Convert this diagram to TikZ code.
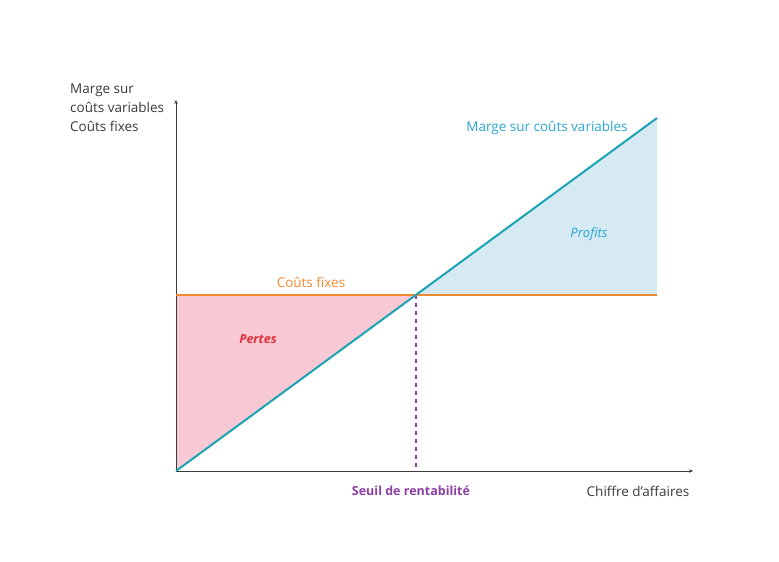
\documentclass[tikz,border=0pt]{standalone}
\usepackage{fontspec}
\setmainfont{Open Sans}
\usetikzlibrary{arrows.meta}
\definecolor{teal1}{HTML}{1AA3B3}
\definecolor{orange1}{HTML}{F08A30}
\definecolor{pink1}{HTML}{F7C9D4}
\definecolor{blue1}{HTML}{D5EAF2}
\definecolor{purple1}{HTML}{8C3FA3}
\definecolor{red1}{HTML}{E0303A}
\definecolor{grey1}{HTML}{3A3A3A}
\definecolor{bluetxt}{HTML}{2AA6D0}
\tikzset{
  lbl/.style={font=\fontsize{13.5}{19}\selectfont, inner sep=0pt},
  axis/.style={draw=grey1, line width=0.9pt},
}
\begin{document}
\begin{tikzpicture}[x=1pt,y=-1pt]
\useasboundingbox (0,0) rectangle (779,562);
\coordinate (O) at (176,471);
\coordinate (Ytop) at (176,100);
\coordinate (Xend) at (693,471);
\coordinate (F0) at (176,295);
\coordinate (S) at (416,295);
\coordinate (F1) at (657,295);
\coordinate (M1) at (657,118);
\coordinate (Sb) at (416,471);
% fills
\fill[pink1] (O) -- (F0) -- (S) -- cycle;
\fill[blue1] (S) -- (M1) -- (F1) -- cycle;
% axes
\draw[axis, -{Stealth[length=4pt,width=3.5pt]}] (O) -- (Ytop);
\draw[axis, -{Stealth[length=4pt,width=3.5pt]}] (O) -- (Xend);
% dashed
\draw[purple1, line width=1.4pt, dash pattern=on 4pt off 4pt] (S) -- (Sb);
% fixed costs
\draw[orange1, line width=1.8pt] (F0) -- (F1);
% margin line
\draw[teal1, line width=2pt] (O) -- (M1);
% labels
\node[lbl, grey1, align=left, anchor=north west] (yl) at (70,84) {Marge sur\\coûts variables\\Coûts fixes};
\node[lbl, bluetxt] (ml) at (547,128) {Marge sur coûts variables};
\node[lbl, bluetxt, font=\fontsize{13}{16}\selectfont\itshape] (pr) at (589,234) {Profits};
\node[lbl, orange1] (cf) at (311,282) {Coûts fixes};
\node[lbl, red1, font=\fontsize{12.5}{15}\selectfont\itshape\bfseries] (pe) at (258,339) {Pertes};
\node[lbl, purple1, font=\fontsize{12.5}{15}\selectfont\bfseries] (sr) at (411,491) {Seuil de rentabilité};
\node[lbl, grey1] (ca) at (638,491) {Chiffre d'affaires};
\end{tikzpicture}
\end{document}
